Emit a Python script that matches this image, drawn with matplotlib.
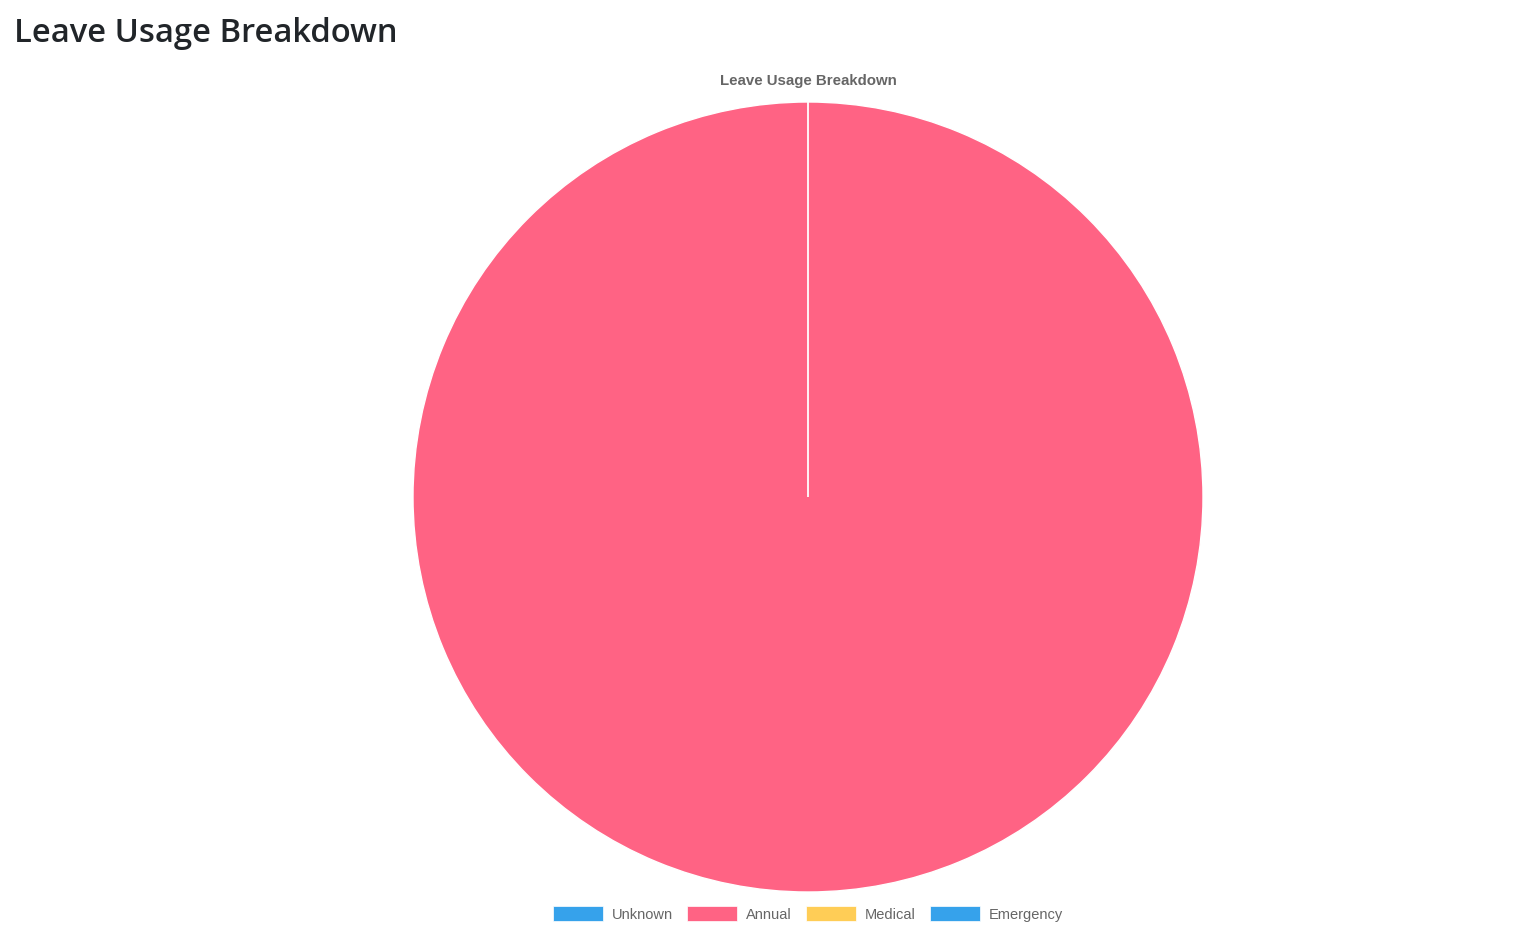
import matplotlib.pyplot as plt
from matplotlib.patches import Patch

# leave usage data (only annual leave used)
labels = ["Unknown", "Annual", "Medical", "Emergency"]
values = [0, 5, 0, 0]
colors = ["#36A2EB", "#FF6384", "#FFCD56", "#36A2EB"]

W, H = 1535, 932
fig = plt.figure(figsize=(W / 100, H / 100), dpi=100)

# page header
fig.text(14 / W, 1 - 33 / H, "Leave Usage Breakdown", fontsize=23.6, fontweight="semibold",
         family=["Open Sans", "DejaVu Sans"], color="#212529", va="center", ha="left")

# chart title
fig.text(808 / W, 1 - 81 / H, "Leave Usage Breakdown", fontsize=10.8, fontweight="bold",
         family=["Liberation Sans", "DejaVu Sans"], color="#666666", va="center", ha="center")

cx, cy, r = 808, 497, 395
ax = fig.add_axes([(cx - r) / W, (H - cy - r) / H, 2 * r / W, 2 * r / H])
ax.pie(values, colors=colors, startangle=90, counterclock=False,
       wedgeprops=dict(edgecolor="white", linewidth=1))
ax.set_xlim(-1, 1)
ax.set_ylim(-1, 1)
ax.set_aspect("equal")
ax.axis("off")

handles = [Patch(facecolor=c, edgecolor="white", linewidth=0.5) for c in colors]
fig.legend(handles, labels, loc="center", bbox_to_anchor=(cx / W, (H - 914) / H), ncol=4,
           frameon=False, prop=dict(family=["Liberation Sans", "DejaVu Sans"], size=10.5),
           labelcolor="#666666", handlelength=3.45, handleheight=1.15, handletextpad=0.6,
           columnspacing=0.95)

fig.savefig("out.png", dpi=100, facecolor="white")
